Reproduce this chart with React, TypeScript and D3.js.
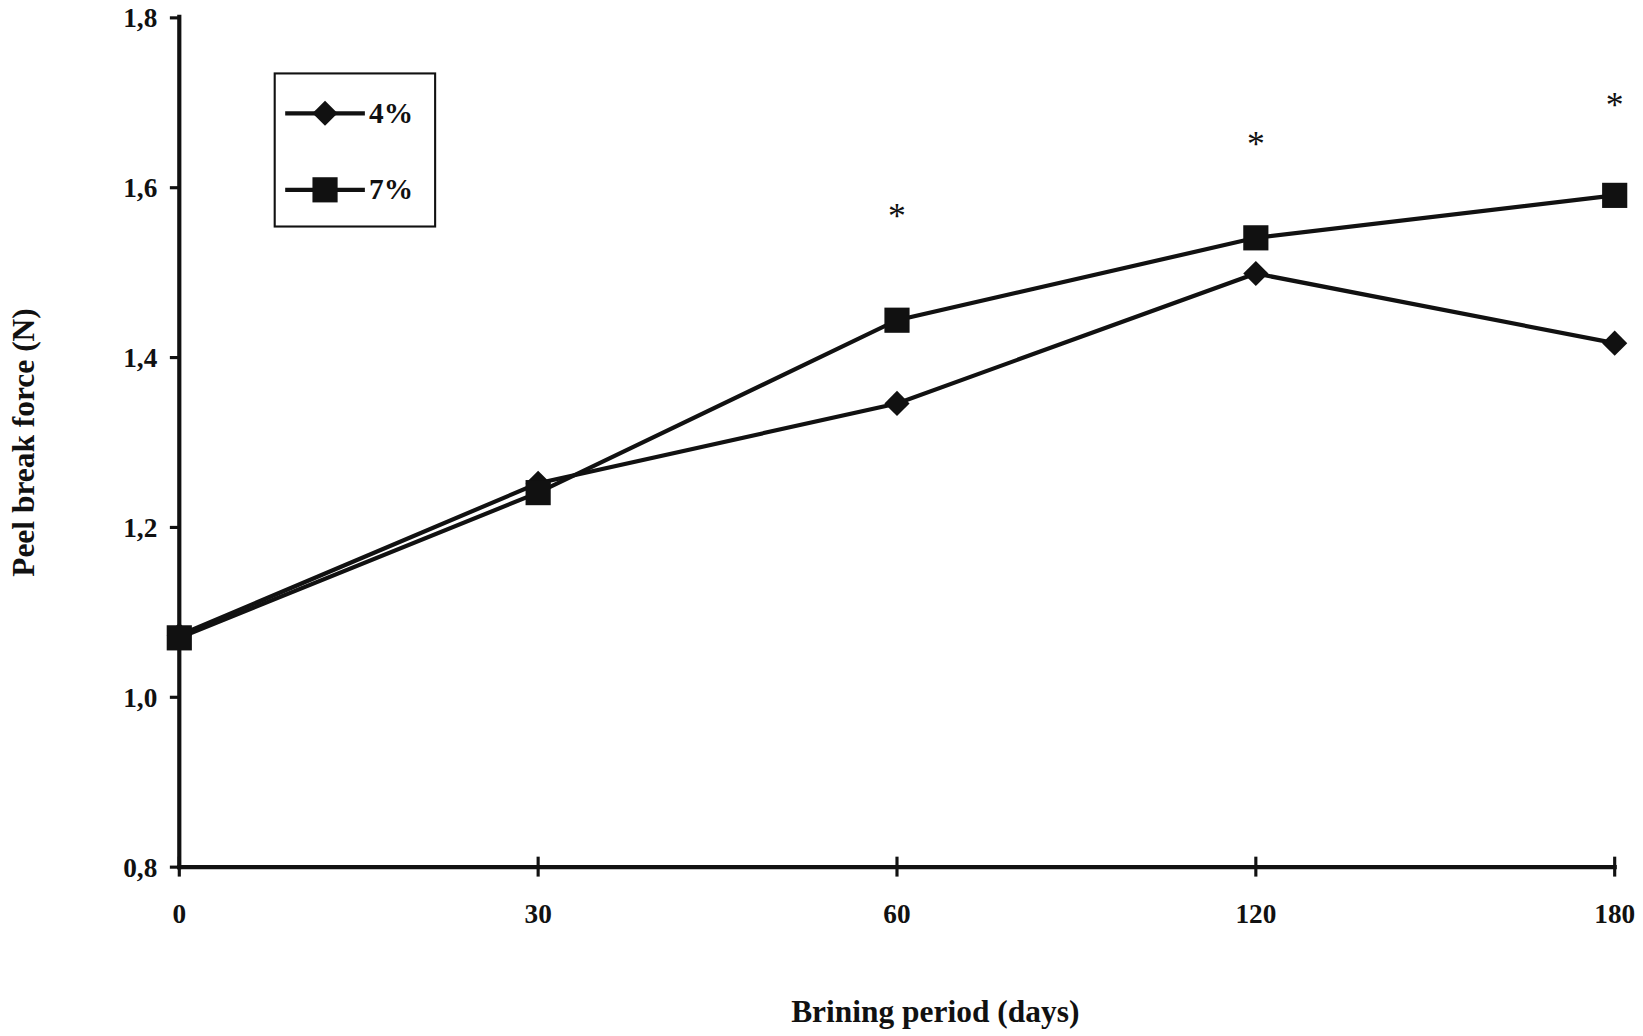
import * as d3 from "d3";

const days = ["0", "30", "60", "120", "180"];
const series4 = [1.073, 1.252, 1.346, 1.499, 1.417];
const series7 = [1.07, 1.241, 1.444, 1.541, 1.591];
const starDays = ["60", "120", "180"];
const starValues = [1.58, 1.665, 1.71];
const yTicks = [0.8, 1.0, 1.2, 1.4, 1.6, 1.8];

const W = 1643, H = 1036;
const FONT = "'Liberation Serif', 'Times New Roman', serif";

export default function App() {
  const x = d3.scalePoint<string>().domain(days).range([171, 1540]);
  const y = d3.scaleLinear().domain([0.8, 1.8]).range([827, 17]);
  const line = d3.line<number>().x((_, i) => x(days[i]) ?? 0).y((d) => y(d));
  const fmt = (v: number) => v.toFixed(1).replace(".", ",");

  const diamond = (cx: number, cy: number, r = 12) =>
    `M${cx},${cy - r}L${cx + r},${cy}L${cx},${cy + r}L${cx - r},${cy}Z`;

  return (
    <svg width={W} height={H} viewBox="0 0 1567 988" style={{ position: "absolute", left: 0, top: 0, background: "#fff" }}>
      <g fontFamily={FONT} fontWeight="bold" fill="#111">
        {/* axes */}
        <line x1={171} x2={171} y1={14} y2={829} stroke="#111" strokeWidth={4} />
        <line x1={169} x2={1542} y1={827} y2={827} stroke="#111" strokeWidth={4} />
        {yTicks.map((t) => (
          <g key={t}>
            <line x1={162} x2={171} y1={y(t)} y2={y(t)} stroke="#111" strokeWidth={3} />
            <text x={150} y={y(t) + 9} textAnchor="end" fontSize={26}>{fmt(t)}</text>
          </g>
        ))}
        {days.map((d) => (
          <g key={d}>
            <line x1={x(d)} x2={x(d)} y1={817} y2={836} stroke="#111" strokeWidth={3} />
            <text x={x(d)} y={880} textAnchor="middle" fontSize={26}>{d}</text>
          </g>
        ))}
        <text x={892} y={975} textAnchor="middle" fontSize={30}>Brining period (days)</text>
        <text transform="translate(32,422) rotate(-90)" textAnchor="middle" fontSize={30}>Peel break force (N)</text>

        {/* series */}
        <path d={line(series4) ?? ""} fill="none" stroke="#111" strokeWidth={4} />
        <path d={line(series7) ?? ""} fill="none" stroke="#111" strokeWidth={4} />
        {series4.map((v, i) => (
          <path key={"d" + i} d={diamond(x(days[i]) ?? 0, y(v))} fill="#111" />
        ))}
        {series7.map((v, i) => (
          <rect key={"s" + i} x={(x(days[i]) ?? 0) - 12} y={y(v) - 12} width={24} height={24} fill="#111" />
        ))}
        {starDays.map((d, i) => (
          <text key={d} x={x(d)} y={y(starValues[i]) + 22} textAnchor="middle" fontSize={34} fontWeight="normal">*</text>
        ))}

        {/* legend */}
        <rect x={262} y={70} width={153} height={146} fill="#fff" stroke="#111" strokeWidth={2} />
        <line x1={272} x2={348} y1={108} y2={108} stroke="#111" strokeWidth={4} />
        <path d={diamond(310, 108)} fill="#111" />
        <text x={352} y={117} fontSize={28}>4%</text>
        <line x1={272} x2={348} y1={181} y2={181} stroke="#111" strokeWidth={4} />
        <rect x={298} y={169} width={24} height={24} fill="#111" />
        <text x={352} y={190} fontSize={28}>7%</text>
      </g>
    </svg>
  );
}
